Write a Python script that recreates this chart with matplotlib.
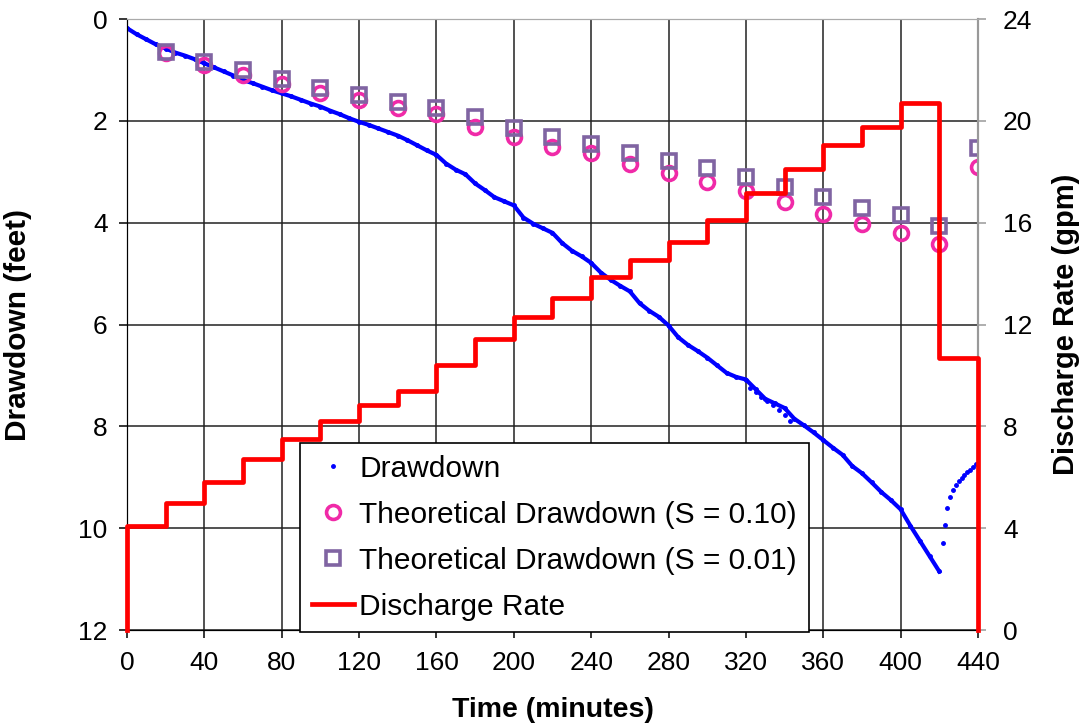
import numpy as np
import matplotlib.pyplot as plt
from matplotlib.lines import Line2D

plt.rcParams['font.family'] = ['Liberation Sans', 'DejaVu Sans']

obs_time = [0, 5, 10, 15, 20, 25, 30, 35, 40, 45, 50, 55, 60, 65, 70, 75, 80,
            85, 90, 95, 100, 105, 110, 115, 120, 125, 130, 135, 140, 145, 150,
            155, 160, 165, 170, 175, 180, 185, 190, 195, 200, 205, 210, 215,
            220, 225, 230, 235, 240, 245, 250, 255, 260, 265, 270, 275, 280,
            285, 290, 295, 300, 305, 310, 315, 320, 325, 330, 335, 340, 345,
            350, 355, 360, 365, 370, 375, 380, 385, 390, 395, 400, 405, 410,
            415, 420]
obs_dd = [0.18, 0.30, 0.40, 0.50, 0.58, 0.66, 0.72, 0.79, 0.87, 0.95, 1.03,
          1.11, 1.20, 1.26, 1.33, 1.40, 1.46, 1.52, 1.59, 1.66, 1.72, 1.80,
          1.87, 1.95, 2.02, 2.08, 2.15, 2.22, 2.29, 2.38, 2.48, 2.58, 2.67,
          2.84, 2.96, 3.05, 3.23, 3.36, 3.50, 3.58, 3.66, 3.90, 4.02, 4.11,
          4.20, 4.40, 4.55, 4.66, 4.79, 4.98, 5.12, 5.24, 5.35, 5.58, 5.73,
          5.85, 6.02, 6.25, 6.40, 6.52, 6.65, 6.80, 6.95, 7.03, 7.08, 7.27,
          7.46, 7.55, 7.64, 7.85, 7.98, 8.12, 8.27, 8.42, 8.56, 8.78, 8.92,
          9.10, 9.29, 9.45, 9.63, 9.95, 10.25, 10.55, 10.85]
# scattered readings around 320-345 min
odd_time = [322, 325, 328, 331, 334, 337, 340, 343]
odd_dd = [7.25, 7.33, 7.42, 7.50, 7.58, 7.68, 7.78, 7.90]
# recovery after pump stopped
rec_time = [422, 423, 424, 425.5, 427, 428.5, 430, 431.5, 433, 434.5, 436, 437.5, 439]
rec_dd = [10.3, 9.94, 9.6, 9.38, 9.25, 9.15, 9.08, 9.02, 8.96, 8.9, 8.85, 8.8, 8.74]

# theoretical drawdown
th_time = [20, 40, 60, 80, 100, 120, 140, 160, 180, 200, 220, 240, 260, 280,
           300, 320, 340, 360, 380, 400, 420, 440]
th_s010 = [0.66, 0.90, 1.10, 1.28, 1.46, 1.59, 1.75, 1.87, 2.12, 2.32, 2.51,
           2.64, 2.85, 3.03, 3.20, 3.38, 3.59, 3.82, 4.03, 4.21, 4.42, 2.91]
th_s001 = [0.64, 0.85, 1.01, 1.18, 1.35, 1.49, 1.62, 1.74, 1.93, 2.15, 2.32,
           2.45, 2.63, 2.79, 2.93, 3.10, 3.29, 3.50, 3.71, 3.85, 4.06, 2.53]

# discharge rate steps (gpm), one per 20 min period
rate_start = [0, 20, 40, 60, 80, 100, 120, 140, 160, 180, 200, 220, 240, 260,
              280, 300, 320, 340, 360, 380, 400, 420]
rate_gpm = [4.1, 5.0, 5.8, 6.7, 7.5, 8.2, 8.85, 9.4, 10.4, 11.45, 12.3, 13.05,
            13.85, 14.55, 15.25, 16.1, 17.15, 18.1, 19.05, 19.75, 20.7, 10.7]

fig = plt.figure(figsize=(10.81, 7.23), dpi=100)
ax = fig.add_axes([0.1175, 0.1286, 0.7872, 0.8451])
ax2 = ax.twinx()

blue = '#0000ff'
pink = '#f02aa8'
purple = '#8064a2'
red = '#ff0000'

ax.set_xlim(0, 440)
ax.set_ylim(12, 0)
ax.set_xticks(np.arange(0, 441, 40))
ax.set_yticks(np.arange(0, 13, 2))
ax.grid(True, color='#222222', linewidth=1.1)
ax.set_axisbelow(True)

ax.plot(obs_time, obs_dd, '-', color=blue, lw=3, zorder=3)
ax.plot(obs_time, obs_dd, '.', color=blue, ms=5, zorder=3)
ax.plot(odd_time, odd_dd, '.', color=blue, ms=5, zorder=3)
ax.plot(rec_time, rec_dd, '.', color=blue, ms=5, zorder=3)
ax.plot(th_time, th_s010, 'o', ms=10, mfc='none', mec=pink, mew=2.6, zorder=4)
ax.plot(th_time, th_s001, 's', ms=10.5, mfc='none', mec=purple, mew=2.6, zorder=4)

ax2.set_ylim(0, 24)
ax2.set_yticks(np.arange(0, 25, 4))
step_x = [0] + rate_start + [440]
step_y = [0] + rate_gpm + [0]
ax2.step(step_x, step_y, where='post', color=red, lw=3.4, zorder=5, clip_on=False)

for a in (ax, ax2):
    a.tick_params(labelsize=19, length=6, width=1.1, direction='out')
    a.spines['top'].set_color('#aaaaaa')
    a.spines['right'].set_color('#999999')
    a.spines['right'].set_linewidth(1.5)
ax.tick_params(axis='x', pad=9)
ax.tick_params(axis='y', pad=8)
ax2.tick_params(axis='y', pad=12, color='#999999')

ax.set_xlabel('Time (minutes)', fontsize=20.5, fontweight='bold', labelpad=16)
ax.set_ylabel('Drawdown (feet)', fontsize=21.5, fontweight='bold')
ax.yaxis.set_label_coords(-0.112, 0.5)
ax2.set_ylabel('Discharge Rate (gpm)', fontsize=21, fontweight='bold', labelpad=14)

handles = [
    Line2D([], [], ls='none', marker='.', color=blue, ms=5),
    Line2D([], [], ls='none', marker='o', ms=10, mfc='none', mec=pink, mew=2.6),
    Line2D([], [], ls='none', marker='s', ms=10.5, mfc='none', mec=purple, mew=2.6),
    Line2D([], [], color=red, lw=3.4),
]
labels = ['Drawdown', 'Theoretical Drawdown (S = 0.10)',
          'Theoretical Drawdown (S = 0.01)', 'Discharge Rate']
leg = ax2.legend(handles, labels, loc='lower left', bbox_to_anchor=(0.203, -0.004),
                 fontsize=21.5, frameon=True, fancybox=False, framealpha=1,
                 edgecolor='black', handlelength=1.4, handletextpad=0.2,
                 labelspacing=0.6, borderpad=0.4, borderaxespad=0)
leg.get_frame().set_linewidth(1.2)
leg.set_zorder(10)

fig.savefig('out.png', dpi=100)
